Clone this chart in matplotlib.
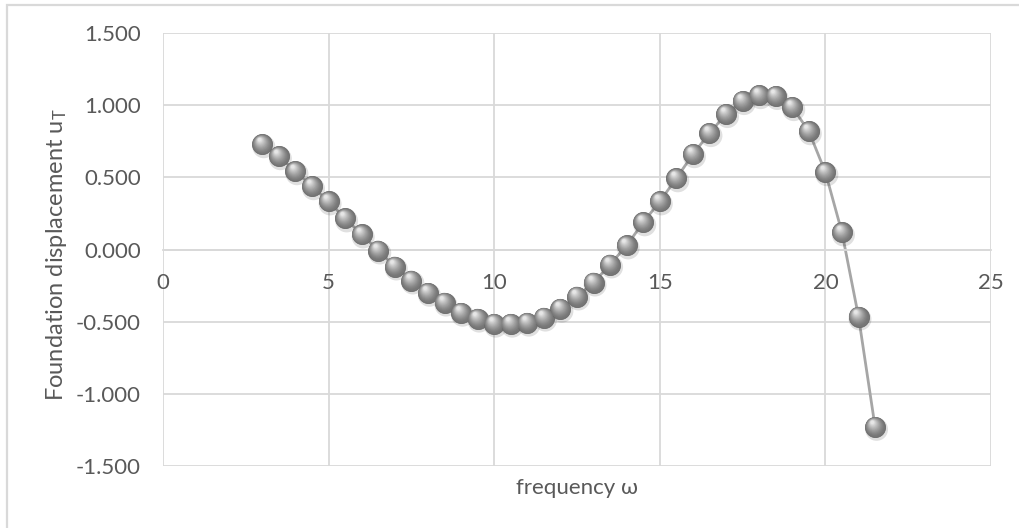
import numpy as np
import matplotlib
matplotlib.use("Agg")
import matplotlib.pyplot as plt
from matplotlib.transforms import offset_copy
from matplotlib.patches import Rectangle
import matplotlib.colors as mcolors

# ---- data ----
frequency = [3.0, 3.5, 4.0, 4.5, 5.0, 5.5, 6.0, 6.5, 7.0, 7.5, 8.0, 8.5, 9.0, 9.5,
             10.0, 10.5, 11.0, 11.5, 12.0, 12.5, 13.0, 13.5, 14.0, 14.5, 15.0, 15.5,
             16.0, 16.5, 17.0, 17.5, 18.0, 18.5, 19.0, 19.5, 20.0, 20.5, 21.0, 21.5]
displacement = [0.729, 0.646, 0.542, 0.438, 0.333, 0.215, 0.104, -0.007, -0.118, -0.215,
                -0.300, -0.368, -0.438, -0.479, -0.514, -0.514, -0.507, -0.472, -0.410,
                -0.326, -0.229, -0.104, 0.028, 0.188, 0.333, 0.493, 0.660, 0.806, 0.938,
                1.028, 1.069, 1.063, 0.986, 0.819, 0.535, 0.118, -0.465, -1.229]
x_ticks = [0, 5, 10, 15, 20, 25]
y_ticks = [-1.5, -1.0, -0.5, 0.0, 0.5, 1.0, 1.5]

plt.rcParams['font.family'] = ['Lato', 'DejaVu Sans']
plt.rcParams['mathtext.fontset'] = 'custom'
plt.rcParams['mathtext.rm'] = 'Lato'
plt.rcParams['mathtext.it'] = 'Lato:italic'

W, H = 1020, 528
fig = plt.figure(figsize=(W / 100, H / 100), dpi=100)
fig.patch.set_facecolor('white')

# plot area in pixels: left 163, right 991, top 33, bottom 466
ax = fig.add_axes([163 / W, 1 - 466 / H, (991 - 163) / W, (466 - 33) / H])
ax.set_xlim(0, 25)
ax.set_ylim(-1.5, 1.5)
ax.set_xticks(x_ticks)
ax.set_yticks(y_ticks)
ax.set_yticklabels([f"{v:.3f}" for v in y_ticks])
ax.grid(True, color='#D9D9D9', linewidth=1.3)
ax.set_axisbelow(True)
for s in ['top', 'right', 'left']:
    ax.spines[s].set_visible(False)
ax.spines['bottom'].set_position(('data', 0))
ax.spines['bottom'].set_color('#D9D9D9')
ax.spines['bottom'].set_linewidth(1.3)
ax.tick_params(axis='both', length=0, labelsize=16, labelcolor='#595959')
ax.tick_params(axis='x', pad=17)
ax.tick_params(axis='y', pad=16)

fig.text(577 / W, 1 - 488 / H, 'frequency ω', fontsize=16, color='#595959',
         ha='center', va='center')
fig.text(57 / W, 1 - 255 / H, 'Foundation displacement u$_{\\mathrm{T}}$', fontsize=17,
         color='#595959', ha='center', va='center', rotation=90)

# connecting line
ax.plot(frequency, displacement, color='#A6A6A6', linewidth=2.0, zorder=2,
        solid_joinstyle='round')

# sphere-like markers
d = 14.5  # marker diameter in points
shadow_t = offset_copy(ax.transData, fig=fig, x=1.5, y=-2.5, units='dots')
ax.scatter(frequency, displacement, s=(d + 2) ** 2, color='black', alpha=0.12,
           edgecolors='none', transform=shadow_t, zorder=3, clip_on=False)
base = np.array(mcolors.to_rgb('#767676'))
light = np.array(mcolors.to_rgb('#E6E6E6'))
ax.scatter(frequency, displacement, s=d ** 2, color=base, edgecolors='#6A6A6A',
           linewidths=0.6, zorder=4, clip_on=False)
n = 12
r_px = d / 72 * 100 / 2
for k in range(1, n + 1):
    t = k / n
    f = 1 - 0.82 * t
    col = base + (light - base) * (t ** 1.3)
    off = (1 - f) * r_px * 0.55
    tr = offset_copy(ax.transData, fig=fig, x=-off * 0.6, y=off, units='dots')
    ax.scatter(frequency, displacement, s=(d * f) ** 2, color=col, edgecolors='none',
               transform=tr, zorder=4 + k * 0.01, clip_on=False)

# outer chart border
fig.patches.append(Rectangle((7 / W, -0.05), 1.1, 1 - 5 / H + 0.05, transform=fig.transFigure,
                             fill=False, edgecolor='#D9D9D9', linewidth=1.6))

fig.savefig('out.png', dpi=100)
